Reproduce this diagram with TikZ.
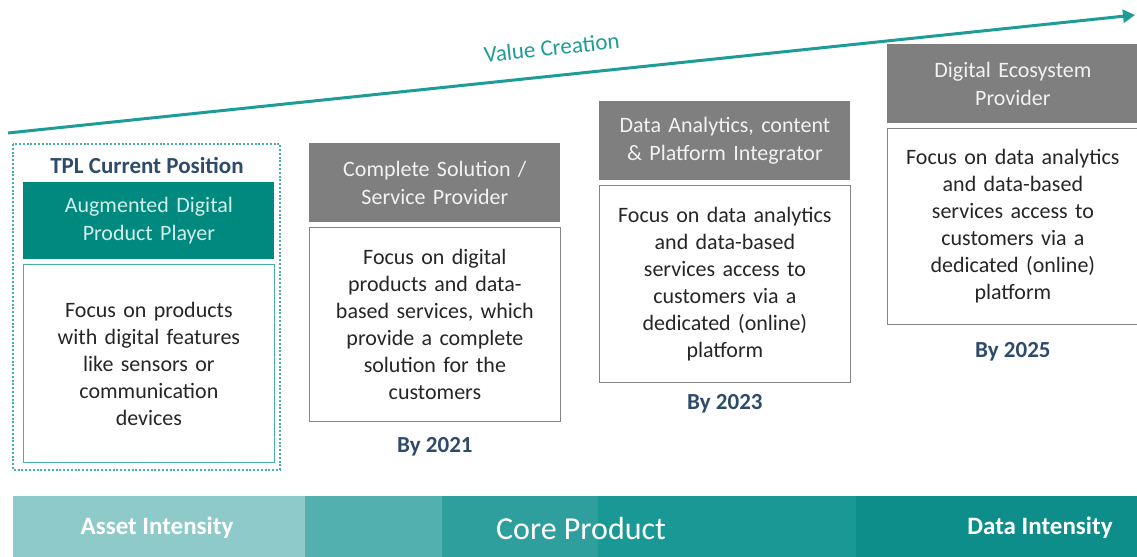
\documentclass[tikz,border=0pt]{standalone}
\usepackage{fontspec}
\setmainfont{Carlito}
\usetikzlibrary{positioning,arrows.meta}
\def \pu {0.5pt}

\definecolor{valteal}{HTML}{1E9C97}
\definecolor{tplteal}{HTML}{00897F}
\definecolor{tpllight}{HTML}{D2EEEA}
\definecolor{frameteal}{HTML}{4AAFAA}
\definecolor{headgray}{HTML}{7F7F7F}
\definecolor{headtext}{HTML}{F2F2F2}
\definecolor{bodygray}{HTML}{858585}
\definecolor{yearblue}{HTML}{2E4B6C}
\definecolor{bandA}{HTML}{8ECACA}
\definecolor{bandB}{HTML}{52B0AF}
\definecolor{bandC}{HTML}{2E9F9D}
\definecolor{bandD}{HTML}{1A9896}
\definecolor{bandE}{HTML}{0E8E8B}

\tikzset{
  head/.style={fill=headgray, text=headtext, anchor=north west, inner sep=0pt,
    minimum width=251*\pu, minimum height=79*\pu, text width=244*\pu, align=center,
    font=\fontsize{11}{14}\selectfont},
  body/.style={draw=bodygray, line width=0.8pt, fill=white, inner sep=0pt,
    minimum width=251*\pu, text width=244*\pu, align=center, text=black!85,
    font=\fontsize{11}{13.5}\selectfont},
  year/.style={inner sep=0pt, text=yearblue, font=\fontsize{11.5}{13}\selectfont\bfseries},
  bandtext/.style={text=white, inner sep=0pt, font=\fontsize{12.5}{14}\selectfont\bfseries},
}

\begin{document}
\begin{tikzpicture}[x=\pu, y=-\pu, node distance=4*\pu]
    \useasboundingbox (0,0) rectangle (1137,557);

    % value creation arrow
    \coordinate (vstart) at (8,133);
    \coordinate (vend) at (1135,15);
    \draw[valteal, line width=1.5pt, -{Triangle[length=6pt,width=6.5pt]}] (vstart) -- (vend)
      node[pos=0.485, sloped, above=12*\pu, text=valteal, font=\fontsize{11.5}{13}\selectfont] (valtxt) {Value Creation};

    % current position
    \draw[frameteal, line width=0.8pt, dash pattern=on 1pt off 0.9pt] (13,144) rectangle (280,470);
    \node[year] (tpl) at (147,165) {TPL Current Position};
    \node[head, fill=tplteal, text=tpllight, minimum height=77*\pu] (aug) at (23,182) {Augmented Digital\\Product Player};
    \node[body, draw=frameteal, below=of aug, minimum height=198*\pu] (augtxt) {Focus on products\\with digital features\\like sensors or\\communication\\devices};

    % by 2021
    \node[head] (cs) at (309,143) {Complete Solution /\\Service Provider};
    \node[body, below=of cs, minimum height=194*\pu] (cstxt) {Focus on digital\\products and data-\\based services, which\\provide a complete\\solution for the\\customers};
    \node[year, below=15*\pu of cstxt] (y21) {By 2021};

    % by 2023
    \node[head] (da) at (599,101) {Data Analytics, content\\\& Platform Integrator};
    \node[body, below=of da, minimum height=197*\pu] (datxt) {Focus on data analytics\\and data-based\\services access to\\customers via a\\dedicated (online)\\platform};
    \node[year, below=11*\pu of datxt] (y23) {By 2023};

    % by 2025
    \node[head] (de) at (887,44) {Digital Ecosystem\\Provider};
    \node[body, below=of de, minimum height=196*\pu] (detxt) {Focus on data analytics\\and data-based\\services access to\\customers via a\\dedicated (online)\\platform};
    \node[year, below=17*\pu of detxt] (y25) {By 2025};

    % bottom band
    \fill[bandA] (13,496) rectangle (305,557);
    \fill[bandB] (305,496) rectangle (442,557);
    \fill[bandC] (442,496) rectangle (598,557);
    \fill[bandD] (598,496) rectangle (856,557);
    \fill[bandE] (856,496) rectangle (1137,557);
    \node[bandtext] (asset) at (157,528) {Asset Intensity};
    \node[bandtext, font=\fontsize{16}{18}\selectfont] (core) at (581,529) {Core Product};
    \node[bandtext] (data) at (1040,528) {Data Intensity};
\end{tikzpicture}
\end{document}
